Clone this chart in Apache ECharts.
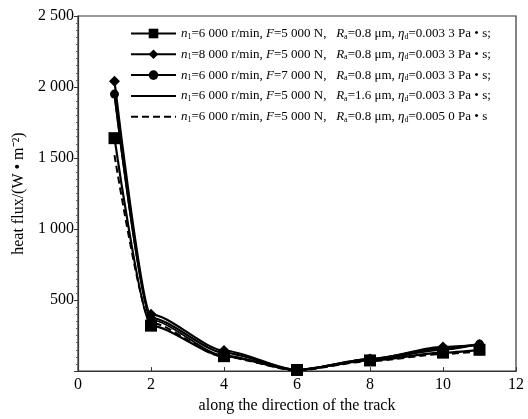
<!DOCTYPE html>
<html><head><meta charset="utf-8">
<script src="https://cdn.jsdelivr.net/npm/echarts@6/dist/echarts.min.js"></script>
<style>html,body{margin:0;padding:0;background:#fff}#c{width:528px;height:419px}</style>
</head><body><div id="c"></div>
<script>
var xPositions = [1, 2, 4, 6, 8, 10, 11];
var sSquare  = [1640, 320, 105, 8, 75, 130, 150];
var sDiamond = [2040, 400, 145, 8, 85, 170, 185];
var sCircle  = [1950, 375, 130, 8, 85, 160, 190];
var sSolid   = [1940, 360, 110, 5, 80, 150, 190];
var sDashed  = [1520, 340, 100, 5, 70, 120, 140];
var seriesNames = ['s1', 's2', 's3', 's4', 's5'];
var legendTexts = [
  '{i|n}{s|1}=6 000 r/min, {i|F}=5 000 N,   {i|R}{s|a}=0.8 μm, {i|η}{s|d}=0.003 3 Pa • s;',
  '{i|n}{s|1}=8 000 r/min, {i|F}=5 000 N,   {i|R}{s|a}=0.8 μm, {i|η}{s|d}=0.003 3 Pa • s;',
  '{i|n}{s|1}=6 000 r/min, {i|F}=7 000 N,   {i|R}{s|a}=0.8 μm, {i|η}{s|d}=0.003 3 Pa • s;',
  '{i|n}{s|1}=6 000 r/min, {i|F}=5 000 N,   {i|R}{s|a}=1.6 μm, {i|η}{s|d}=0.003 3 Pa • s;',
  '{i|n}{s|1}=6 000 r/min, {i|F}=5 000 N,   {i|R}{s|a}=0.8 μm, {i|η}{s|d}=0.005 0 Pa • s'
];

function pairs(arr){ return arr.map(function(v,i){ return [xPositions[i], v]; }); }
function fmtThousands(v){
  if (v === 0) return '';
  var s = String(v);
  if (s.length > 3) s = s.slice(0, s.length-3) + ' ' + s.slice(s.length-3);
  return s;
}
var font = 'Liberation Serif';
var chart = echarts.init(document.getElementById('c'));
var common = { type: 'line', smooth: 0.25, smoothMonotone: 'x', color: '#000',
  lineStyle: { color: '#000', width: 2.2 }, itemStyle: { color: '#000' } };
function mk(name, data, symbol, size, extra){
  var o = Object.assign({}, common, { name: name, data: pairs(data), symbol: symbol, symbolSize: size, showSymbol: symbol !== 'none' });
  if (extra) Object.assign(o, extra);
  return o;
}
chart.setOption({
  animation: false,
  backgroundColor: '#fff',
  textStyle: { fontFamily: font },
  grid: { left: 78, right: 12, top: 16, bottom: 43, show: true, borderColor: '#333', borderWidth: 1.2 },
  legend: {
    orient: 'vertical', left: 130, top: 27, padding: 0, itemWidth: 45, itemHeight: 12, itemGap: 7.3,
    data: [
      { name: 's1' }, { name: 's2' }, { name: 's3' },
      { name: 's4', itemStyle: { opacity: 0 } },
      { name: 's5', itemStyle: { opacity: 0 } }
    ],
    formatter: function(name){ return legendTexts[seriesNames.indexOf(name)]; },
    textStyle: { fontFamily: font, fontSize: 13, color: '#000',
      rich: { i: { fontStyle: 'italic', fontFamily: font, fontSize: 13, color: '#000' },
              s: { fontSize: 8, verticalAlign: 'bottom', padding: [6,0,0,0], fontFamily: font, color: '#000' } } }
  },
  xAxis: {
    type: 'value', min: 0, max: 12, interval: 2,
    name: 'along the direction of the track', nameLocation: 'middle', nameGap: 26,
    nameTextStyle: { fontFamily: font, fontSize: 16, color: '#000' },
    axisLine: { show: true, lineStyle: { color: '#333', width: 1.2 } },
    axisTick: { show: true, inside: true, length: 4, lineStyle: { color: '#333' } },
    axisLabel: { fontFamily: font, fontSize: 16, color: '#000', margin: 6 },
    splitLine: { show: false }
  },
  yAxis: {
    type: 'value', min: 0, max: 2500, interval: 500,
    name: 'heat flux/(W • m⁻²)', nameLocation: 'middle', nameGap: 46,
    nameTextStyle: { fontFamily: font, fontSize: 16, color: '#000' },
    axisLine: { show: true, lineStyle: { color: '#333', width: 1.2 } },
    axisTick: { show: true, inside: false, length: 4, lineStyle: { color: '#333' } },
    minorTick: { show: true, splitNumber: 10, length: 2, lineStyle: { color: '#666' } },
    axisLabel: { fontFamily: font, fontSize: 16, color: '#000', margin: 4, formatter: fmtThousands },
    splitLine: { show: false }
  },
  series: [
    mk('s1', sSquare, 'rect', 12),
    mk('s2', sDiamond, 'diamond', 11),
    mk('s3', sCircle, 'circle', 9),
    mk('s4', sSolid, 'none', 0, { lineStyle: { color: '#000', width: 1.8 } }),
    mk('s5', sDashed, 'none', 0, { lineStyle: { color: '#000', width: 2, type: [7, 4] } })
  ]
});
</script></body></html>
